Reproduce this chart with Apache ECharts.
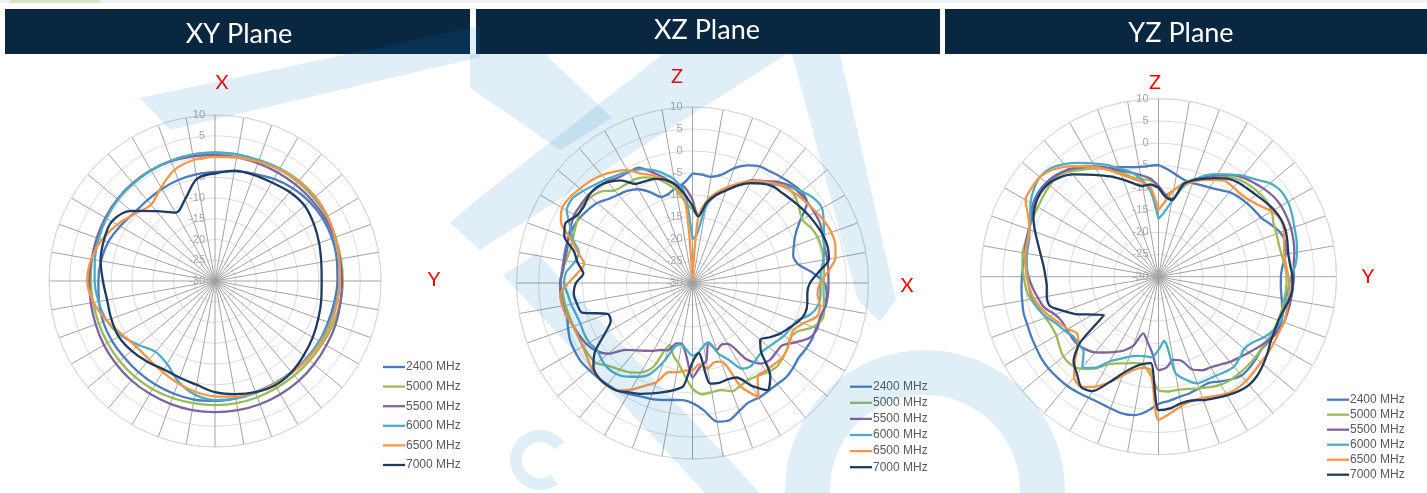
<!DOCTYPE html>
<html><head><meta charset="utf-8">
<script src="https://cdn.jsdelivr.net/npm/echarts/dist/echarts.min.js"></script>
<style>html,body{margin:0;padding:0;background:#fff}#c{width:1427px;height:493px}</style>
</head><body><div id="c"></div>
<script>
// ---- data ----
const angles10 = [0,10,20,30,40,50,60,70,80,90,100,110,120,130,140,150,160,170,180,190,200,210,220,230,240,250,260,270,280,290,300,310,320,330,340,350];
const angles5 = [0,5,10,15,20,25,30,35,40,45,50,55,60,65,70,75,80,85,90,95,100,105,110,115,120,125,130,135,140,145,150,155,160,165,170,175,180,185,190,195,200,205,210,215,220,225,230,235,240,245,250,255,260,265,270,275,280,285,290,295,300,305,310,315,320,325,330,335,340,345,350,355];
const seriesNames = ['2400 MHz','5000 MHz','5500 MHz','6000 MHz','6500 MHz','7000 MHz'];
const seriesColors = ['#4a7bbd','#9bbb59','#7f63a1','#4bacc6','#f79646','#1f3a60'];
const planeTitles = ['XY Plane','XZ Plane','YZ Plane'];

// XY plane (dB, every 10 deg)
const xy2400 = [-3.7,-3.2,-2.5,-1.6,-0.8,-0.3,0,0,-0.2,-0.5,-0.8,-1,-1,-1.1,-1.3,-1.5,-1.5,-1.3,-1.1,-1,-1.1,-1.2,-1.3,-1.4,-1.3,-1.3,-1.6,-1.9,-2.1,-2.6,-3.6,-4.5,-4.6,-4.4,-4.1,-3.9];
const xy5000 = [0.9,0.9,0.9,1.0,1.1,1.1,1.0,0.9,0.8,0.8,0.6,0.3,0,-0.2,-0.3,-0.3,-0.2,-0.1,-0.1,-0.1,0,0.1,0.1,0,-0.1,-0.2,-0.2,-0.1,0.1,0.3,0.5,0.7,0.8,0.9,0.9,0.9];
const xy5500 = [0.4,0.3,0.2,0.2,0.3,0.4,0.5,0.6,0.6,0.6,0.7,0.9,1.0,1.2,1.4,1.5,1.6,1.6,1.6,1.6,1.5,1.4,1.3,1.1,0.9,0.6,0.4,0.3,0.2,0.3,0.5,0.7,0.8,0.8,0.7,0.5];
const xy6000 = [1.0,1.0,1.0,1.3,1.5,1.4,1.2,0.8,0.3,0,-0.3,-0.6,-0.9,-1.1,-1.3,-1.4,-1.3,-1.2,-1.3,-2.2,-4.2,-6.9,-7.7,-6,-3.8,-2.2,-1.5,-1,-0.6,-0.2,0.2,0.5,0.6,0.8,0.9,1.0];
const xy6500 = [-0.1,0.2,0.6,1,1.5,1.6,1.3,0.8,0.4,0.1,-0.1,-0.3,-0.5,-0.8,-1.1,-1.3,-1.5,-1.7,-2.2,-2.9,-3.8,-4.7,-5.3,-5.3,-4.2,-2.2,-0.3,0.8,0.3,-1,-2.8,-4.8,-6,-4,-1.5,-0.4];
const xy7000 = [-4.1,-3,-2.8,-2.6,-2,-1.8,-2.5,-3.3,-4,-4.3,-4,-3.5,-2.8,-2.1,-1.3,-1,-1.5,-2.3,-3.2,-4.6,-5.2,-5.4,-4.6,-3.8,-3.2,-3.4,-3.6,-3,-2,-1.5,-1.3,-3.7,-8,-11,-9,-5];

// XZ plane (dB, every 5 deg)
const xz2400 = [-5.1,-5.3,-5.5,-4.5,-2.2,-0.5,0.6,0.9,1.4,1.9,2.3,1.8, -1.8,-4.2,-5.5,-6.3,-5.6,-2.7,0,0.6,0.5,0.2,-0.1,0, -0.2,-0.5,-0.1,0.2,0,0,0.1,0,1,2.3,2,-1, -2.7,-3.3,-3,-2.5,-2,-1.6,-0.9,-0.2,0.1,0.4,0.7,1, 0.9,0.7,0.1,-0.5,-0.5,-0.4,0,-0.2,-0.3,-0.1,-0.1,-0.1, -0.4,-1,-1.7,-3,-3.8,-4.4,-5.4,-7.2,-9.2,-9,-8,-7.2];
const xz5000 = [-13.3,-14.8,-11,-9,-7,-5.2,-3.5,-2,-0.3,0.5,0.5,-0.4, -1.2,-0.3,0.3,0.4,0.3,0,-0.2,-0.1,0.4,0.7,-0.8,-3.8, -4.5,-3.8,-3.3,-3,-3.5,-4.2,-4.6,-4.2,-3.8,-4.8,-4.8,-4.6, -6,-9,-11.5,-13,-15,-9,-6.5,-5.2,-4.3,-3.3,-1.6,-1.3, -1.3,-1.3,-1.2,-1,-0.7,-0.4,0.1,-0.3,-0.8,-1.2,-1,-0.6, 0,0.6,0.3,-0.6,-2.5,-2.9,-3,-3.5,-4.5,-6.4,-8.5,-11.5];
const xz5500 = [-11,-14.6,-11.5,-9.3,-7.3,-5.5,-3,-1.7,0,1.3,1.8,1.9, 2,2,1.5,1.1,1.1,1,0.9,0.9,0.7,0,0.2,-0.6, -3,-5.2,-5.3,-5.2,-6.1,-9,-14,-14.5,-13.8,-16,-12,-10.8, -8.5,-13.5,-16,-15.8,-13.7,-13.2,-12.2,-11.2,-10,-8.5,-5,-3.2, -2.2,-1.7,-1.2,-0.5,0,0.1,0.1,-0.4,-0.5,-0.5,0,0.5, 1,1,1,0.6,0.2,-0.7,-0.9,-1.1,-3.2,-5.3,-7.2,-8];
const xz6000 = [-20,-19,-12.4,-9.2,-7.3,-5.5,-3.8,-2.4,-0.8,0.8,2.4,3.6, 4,2.9,1.8,1,0.2,-0.7,-0.9,-0.8,-1,-2.3,-4.8,-5.5, -6,-6.8,-7.4,-7.8,-7.4,-6.9,-7.5,-10.8,-13,-16,-15.5,-14.2, -13.5,-14.7,-15.8,-15.2,-11,-7.2,-5.4,-4,-3,-2.7,-3,-3.5, -2.9,-2.8,-2.9,-2.6,-2,-1.5,-0.8,-1.2,-2.8,-3.3,-1,0.7, 3,3.4,2.5,1.5,0.7,-0.1,-0.8,-1.5,-2.6,-4.2,-6.1,-9.5];
const xz6500 = [-29,-15,-11,-8.7,-6.8,-5,-3.3,-1.8,-0.6,0.4,1.1,1.7, 2.4,3.1,3.6,3.6,3,1,-1,-1.5,-0.6,-0.7,-3.2,-4.7, -4.3,-3.7,-3.5,-3.8,-4,-4.2,0,-4,-11,-11.3,-10.3,-11.5, -10.2,-10,-9.4,-9,-6,-4.2,-2,-0.2,0.3,0.3,0,-0.7, -1.2,-1.3,-1.2,-0.5,0,0.2,-1.8,-3.8,-5,-3,-0.5,3, 4.2,4,3.4,2.8,2,0.9,-0.4,-2.6,-4,-5.7,-7.5,-12];
const xz7000 = [-12.5,-14.8,-11.5,-9.3,-7.6,-5.5,-3.8,-2.4,-1.4,-1.1,-0.6,0, 0.6,1.1,1.6,1.8,1.5,-1.2,-3.3,-3.8,-3.5,-3.5,-4.4,-5.8, -7,-8.5,-9.9,-8,-2.5,-0.3,-3,-6.3,-6.7,-6.5,-6.8,-14, -12,-6.5,-5.3,-4.3,-3.3,-2.2,-1.3,-0.1,0.3,0.3,-0.6,-3, -7,-9.5,-9.5,-4,-3.3,-2.9,-3.5,-5.1,-3.5,-2.1,1,1.9, 0.5,0.2,0.8,0.8,-0.1,-1.5,-4,-4.5,-4.8,-5.7,-7.3,-9.8];

// YZ plane (dB, every 5 deg)
const yz2400 = [-4.9,-5.8,-6.8,-7.5,-7.6,-7.3,-6.9,-6.2,-5.2,-4.6,-4.2,-3.8, -3.4,-2.2,-0.9,-0.5,-1,-2,-2.5,-2.4,-1.9,-1.2,-0.6,-0.7, -1.2,-1.7,-1.4,-1.1,-1,-1.8,-2.8,-3.6,-3.3,-2.9,-2.6,-2, -1.4,0.4,1.6,1.8,1.5,1.3,1.4,1.7,2,2.1,2.2,2.1, 1.8,1.6,1.4,1.4,1.1,0.9,0.7,0.5,0.4,0.6,1,1.7, 2.6,3,2.9,2.4,1.2,-0.3,-1.8,-3,-3.8,-4.5,-5,-5];
const yz5000 = [-9.5,-11.5,-10.3,-8.2,-6.7,-5.2,-3.8,-2.7,-1.6,-1,-0.6,-0.4, -0.6,-1.5,-1.8,-2,-1.9,-1.5,-1.2,-1.2,-1.3,-1.3,-1.4,-1.5, -1.6,-1.8,-1.7,-1.7,-1.7,-1.7,-2,-2.6,-3.3,-3.9,-4.2,-4.1, -4.5,-8,-10,-9.9,-9.3,-8.5,-7.2,-4.8,-3,-2.1,-2.1,-2.8, -3.5,-3.5,-3,-2.2,-0.8,-0.1,0.3,0.7,1,0.9,1,1.2, 1.3,1.6,1.9,2,0.9,-0.6,-1.9,-3.4,-5,-6.8,-7.7,-8.3];
const yz5500 = [-9.6,-11.5,-12.3,-8.5,-7,-5.3,-3.7,-2.1,-0.8,0,0.8,1.5, 1.8,1.8,1.7,1.4,1,0.5,0.4,0.3,0.2,0.1,0,-0.5, -1.5,-2.5,-3.5,-4.3,-5,-5.9,-6.5,-6.8,-7.8,-10.5,-11,-9.5, -9,-13,-15.3,-16.8,-13.5,-11.7,-10.5,-9.2,-7.8,-6.9,-6.3,-6.2, -6.2,-6.1,-5.2,-3.4,-2.5,-1.6,-0.8,-0.1,0.5,0.8,1,1.5, 2.2,2.7,2.7,2.3,1.5,0.2,-1.4,-3,-4.6,-5.8,-6.8,-7.8];
const yz6000 = [-17,-15.5,-12.8,-9.3,-6.9,-4.9,-3.4,-2,-0.4,0.9,2.7,3.6, 3.6,3.1,2.5,2.1,1.6,0.9,-0.2,-0.7,-0.9,-0.9,-0.7,-1.5, -2.7,-4.2,-4.8,-4.2,-3.6,-3.9,-4.3,-4.4,-4.5,-6,-8,-15.5, -13.5,-11.8,-11.9,-11.6,-10.9,-9.6,-8,-5,-3.3,-6.2,-6.5,-6.6, -5.7,-4.8,-3.3,-2,-1.2,-0.8,-0.6,-0.3,0,0.2,0.8,1.8, 3.2,4.2,4.8,4.4,3,1.2,-0.6,-2.3,-4.1,-5.6,-7.8,-11];
const yz6500 = [-15,-13,-10.2,-8.7,-7.3,-6,-4.9,-3.8,-3.8,-3.8,-3.3,-2.2, -0.6,0.4,0,-0.8,-1.3,-1.2,-0.8,-0.4,-0.3,-0.2,0,-0.2, -0.1,0,0,0.3,0.6,0.7,0.4,-0.4,-1,-1.1,-0.5,0.8, 2.2,-9,-9.2,-8.3,-6.3,-3.8,-1.5,0.2,-0.5,-3.5,-6.5,-7.7, -6.5,-5.4,-4,-2.7,-1.6,-0.9,-0.4,0,0.4,0.5,0.9,2.3, 4.5,4.8,4.8,3.9,2.3,0.3,-1.6,-3.5,-5.6,-7.2,-8.4,-10];
const yz7000 = [-10,-12,-12.5,-8.5,-6.9,-5.7,-4.4,-3.1,-2.3,-1.9,-1.4,-0.7, 0,0.4,0.4,0,-0.4,-0.3,0.1,0.2,-0.2,-0.9,-1.3,-1.2, -0.9,-0.1,0.7,1.4,1.7,1.4,0.8,0.1,-0.5,-1.2,-1.1,-0.3, 0,-10.5,-10.1,-9,-7,-3.8,-0.3,0.3,-1.5,-3,-7,-15, -13,-10,-7.4,-4.7,-4.5,-4.8,-4.6,-4.1,-3.2,-2,-0.5,1, 2,2.5,2.4,1.5,0,-2,-3.7,-5.2,-6.8,-8.3,-9.3,-9.2];

const planes = [
  {angles: angles10, data: [xy2400, xy5000, xy5500, xy6000, xy6500, xy7000]},
  {angles: angles5, data: [xz2400, xz5000, xz5500, xz6000, xz6500, xz7000]},
  {angles: angles5, data: [yz2400, yz5000, yz5500, yz6000, yz6500, yz7000]}
];

// ---- layout ----
const polarLayout = [
  {center: [215, 281], radius: 166},
  {center: [692.5, 283], radius: 176},
  {center: [1158.5, 276.7], radius: 178}
];
const legendLayout = [
  {left: 383, top: 361, itemGap: 7.6},
  {left: 850, top: 380.7, itemGap: 4.1},
  {left: 1327, top: 393.7, itemGap: 3}
];

function toPolar(vals, angs) {
  const d = angs.map((a, i) => [vals[i], a]);
  d.push([vals[0], 360]);
  return d;
}

const series = [];
planes.forEach((pl, p) => {
  pl.data.forEach((arr, k) => {
    series.push({
      type: 'line', name: seriesNames[k], coordinateSystem: 'polar', polarIndex: p,
      data: toPolar(arr, pl.angles), symbol: 'none', smooth: p === 0 ? 0.35 : 0.25, animation: false,
      lineStyle: {width: 2.3, color: seriesColors[k]}, itemStyle: {color: seriesColors[k]}
    });
  });
});

const wm = 'rgba(0,112,192,0.12)';
const txt = (x, y, t, fill, font) => ({type: 'text', x: x, y: y, z: 6, style: {text: t, fill: fill, font: font, align: 'center', verticalAlign: 'middle'}});
const graphic = [
  {type: 'rect', shape: {x: 0, y: 0, width: 1427, height: 3}, style: {fill: '#eef1f4'}, z: 1},
  {type: 'rect', shape: {x: 10, y: 0, width: 90, height: 3}, style: {fill: '#d3e6bf'}, z: 1},
  {type: 'rect', shape: {x: 5, y: 9, width: 465, height: 45}, style: {fill: '#0a2742'}, z: 5},
  {type: 'rect', shape: {x: 476, y: 9, width: 464, height: 45}, style: {fill: '#0a2742'}, z: 5},
  {type: 'rect', shape: {x: 945, y: 9, width: 482, height: 45}, style: {fill: '#0a2742'}, z: 5},
  txt(239, 34, planeTitles[0], '#ffffff', '27px Lato'),
  txt(707, 30, planeTitles[1], '#ffffff', '27px Lato'),
  txt(1181, 33, planeTitles[2], '#ffffff', '27px Lato'),
  txt(222, 83, 'X', '#ff0000', '20px Lato'),
  txt(434, 280, 'Y', '#ff0000', '20px Lato'),
  txt(677, 77, 'Z', '#ff0000', '20px Lato'),
  txt(907, 286, 'X', '#ff0000', '20px Lato'),
  txt(1155, 83, 'Z', '#ff0000', '20px Lato'),
  txt(1368, 277, 'Y', '#ff0000', '20px Lato'),
  // watermark
  {type: 'polygon', silent: true, z: 50, shape: {points: [[140,98],[480,26],[480,57],[170,130]]}, style: {fill: wm}},
  {type: 'polygon', silent: true, z: 50, shape: {points: [[470,54],[545,54],[612,118],[560,150],[470,88]]}, style: {fill: wm}},
  {type: 'polygon', silent: true, z: 50, shape: {points: [[663,54],[787,54],[480,250],[450,223],[480,197]]}, style: {fill: wm}},
  {type: 'polygon', silent: true, z: 50, shape: {points: [[792,54],[840,54],[896,300],[880,322],[858,300]]}, style: {fill: wm}},
  {type: 'polygon', silent: true, z: 50, shape: {points: [[503,275],[537,253],[760,493],[705,493]]}, style: {fill: wm}},
  {type: 'sector', silent: true, z: 50, shape: {cx: 540, cy: 460, r: 30, r0: 18, startAngle: 0.3 * Math.PI, endAngle: 1.8 * Math.PI, clockwise: true}, style: {fill: wm}},
  {type: 'ring', silent: true, z: 50, shape: {cx: 925, cy: 490, r: 140, r0: 95}, style: {fill: wm}}
];

const option = {
  backgroundColor: '#ffffff',
  animation: false,
  polar: polarLayout.map(l => ({center: l.center, radius: l.radius})),
  angleAxis: polarLayout.map((l, i) => ({
    polarIndex: i, type: 'value', min: 0, max: 360, interval: 10, startAngle: 90, clockwise: true,
    axisLine: {show: true, lineStyle: {color: '#d9d9d9', width: 1}},
    axisTick: {show: false}, axisLabel: {show: false},
    splitLine: {show: true, lineStyle: {color: '#a3a3a3', width: 1}}
  })),
  radiusAxis: polarLayout.map((l, i) => ({
    polarIndex: i, type: 'value', min: -30, max: 10, interval: 5,
    axisLine: {show: false}, axisTick: {show: false},
    axisLabel: {color: '#a6a6a6', fontSize: 11, fontFamily: 'Liberation Sans', margin: 10},
    splitLine: {show: true, lineStyle: {color: '#dcdcdc', width: 1}}
  })),
  legend: legendLayout.map(l => ({
    orient: 'vertical', left: l.left, top: l.top, padding: 0, itemGap: l.itemGap,
    itemWidth: 22, itemHeight: 14, selectedMode: false, data: seriesNames,
    icon: 'path://M0,0L24,0L24,2.5L0,2.5Z',
    textStyle: {color: '#595959', fontSize: 12, fontFamily: 'Liberation Sans', padding: [0, 0, 0, -4]}
  })),
  graphic: graphic,
  series: series
};

const chart = echarts.init(document.getElementById('c'), null, {renderer: 'canvas'});
chart.setOption(option);
</script>
</body></html>
